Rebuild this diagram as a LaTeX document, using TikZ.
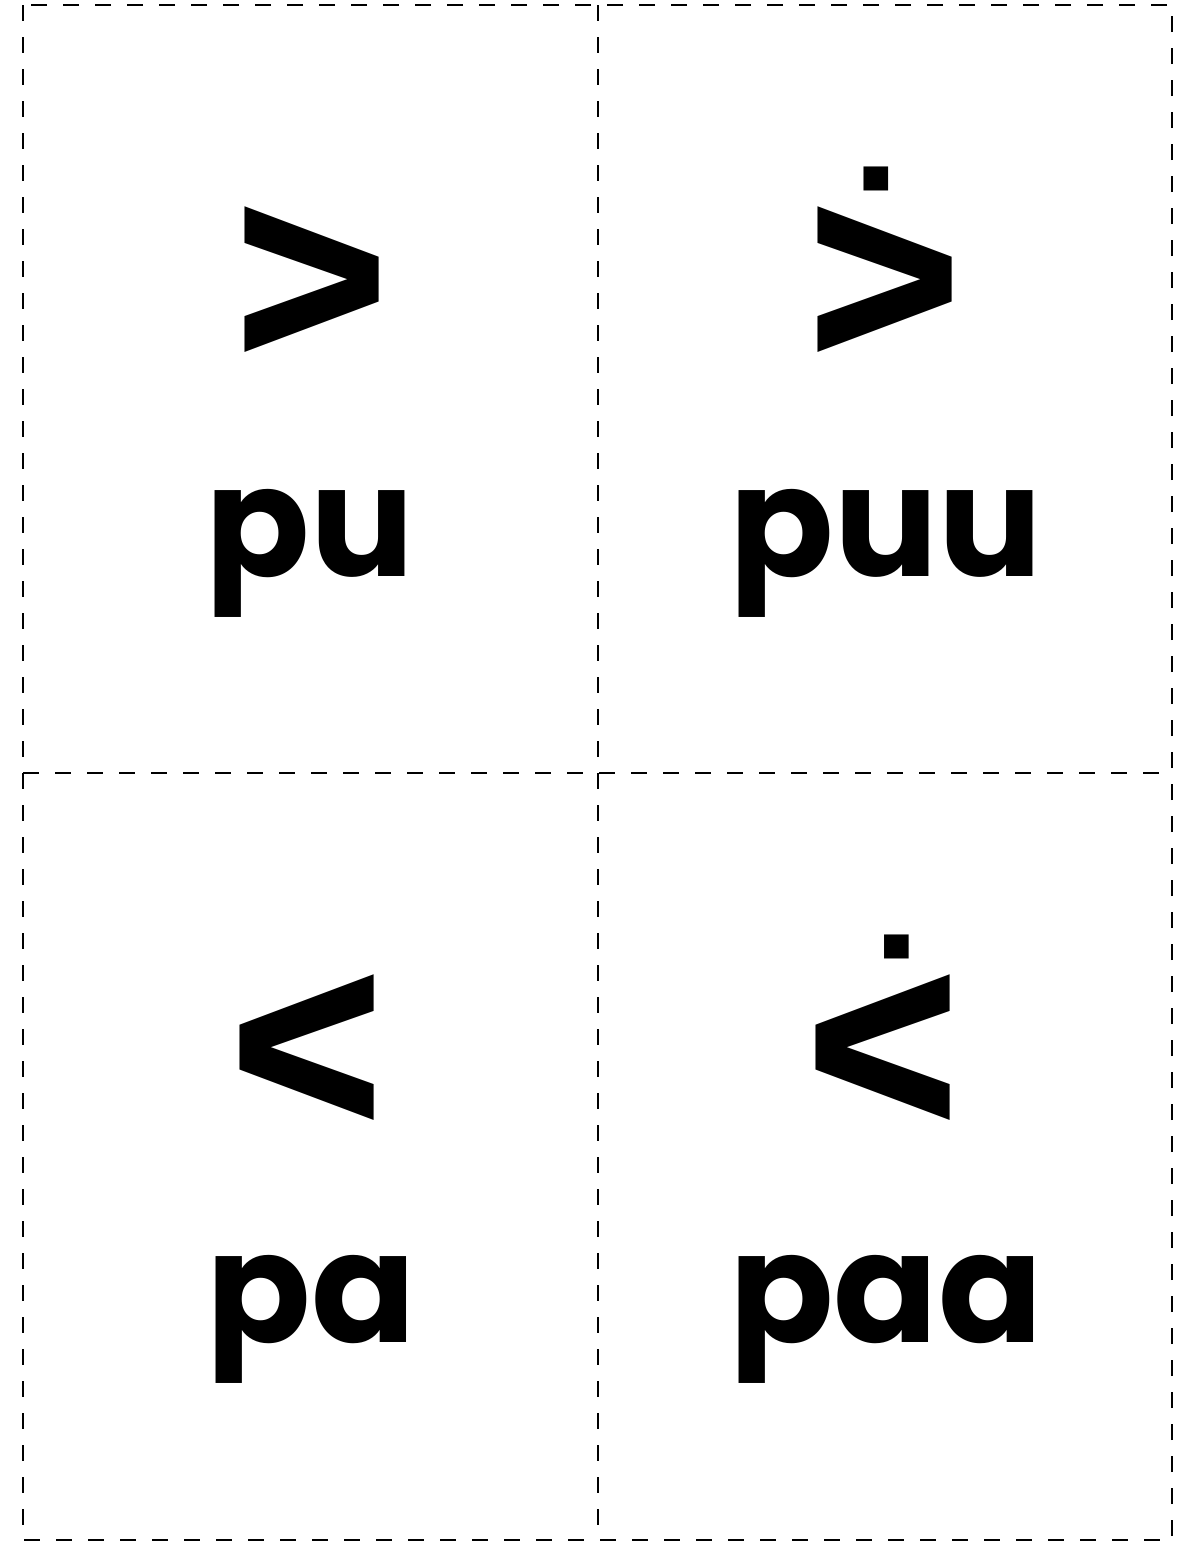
\documentclass[tikz,border=0pt]{standalone}
\usepackage{fontspec}
\setmainfont{Poppins}
\newfontfamily\syl{DejaVu Sans}
\newcommand{\sq}[1]{\scalebox{0.92}[1]{#1}}
\begin{document}
\begin{tikzpicture}[x=1pt,y=-1pt,
  cut/.style={line width=2pt,dash pattern=on 16pt off 16pt},
  sylb/.style={inner sep=0pt,anchor=base,font=\syl\bfseries\fontsize{200}{200}\selectfont},
  word/.style={inner sep=0pt,anchor=base,font=\bfseries\fontsize{154}{154}\selectfont}]
\useasboundingbox (0,0) rectangle (1193,1543);
\coordinate (tl) at (23,5);
\coordinate (br) at (1172,1540);
\coordinate (mt) at (598,5);
\coordinate (mb) at (598,1540);
\coordinate (ml) at (23,773);
\coordinate (mr) at (1172,773);
\draw[cut] (tl) rectangle (br);
\draw[cut] (mt) -- (mb);
\draw[cut] (ml) -- (mr);
\node[sylb] (s1) at (313,352) {\sq{ᐳ}};
\node[word] (w1) at (310,576) {pu};
\node[sylb] (s2) at (886,352) {\sq{ᐴ}};
\node[word] (w2) at (886,576) {puu};
\node[sylb] (s3) at (308,1120) {\sq{ᐸ}};
\node[word] (w3) at (311,1342) {pa};
\node[sylb] (s4) at (884,1120) {\sq{ᐹ}};
\node[word] (w4) at (886,1342) {paa};
\end{tikzpicture}
\end{document}
